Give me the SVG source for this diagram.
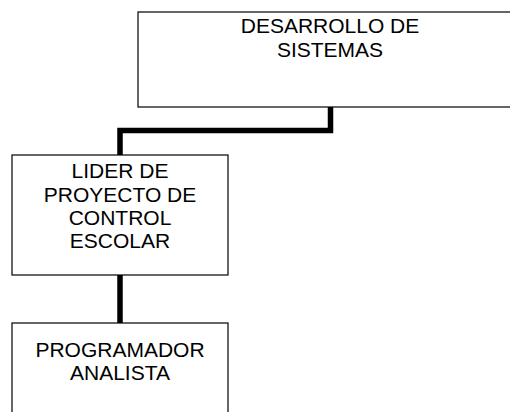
<svg xmlns="http://www.w3.org/2000/svg" width="510" height="412" viewBox="0 0 510 412">
<style>
.box{fill:#fff;stroke:#000;stroke-width:1.2}
.lbl{font-family:"Liberation Sans",Arial,sans-serif;font-size:21px;fill:#000;text-anchor:middle}
.conn{fill:none;stroke:#000;stroke-width:5.5;stroke-linejoin:miter}
</style>
<rect width="510" height="412" fill="#fff"/>
<g id="connectors">
<polyline class="conn" points="330.5,107 330.5,130.5 120,130.5 120,155"/>
<line class="conn" x1="120" y1="275" x2="120" y2="323"/>
</g>
<g id="desarrollo">
<rect class="box" x="138" y="12" width="390" height="95"/>
<text class="lbl" x="330" y="33.3">DESARROLLO DE</text>
<text class="lbl" x="330" y="56.7">SISTEMAS</text>
</g>
<g id="lider">
<rect class="box" x="12" y="155" width="216" height="120"/>
<text class="lbl" x="120" y="178.3">LIDER DE</text>
<text class="lbl" x="120" y="201.7">PROYECTO DE</text>
<text class="lbl" x="120" y="225">CONTROL</text>
<text class="lbl" x="120" y="248.3">ESCOLAR</text>
</g>
<g id="programador">
<rect class="box" x="12" y="323" width="216" height="100"/>
<text class="lbl" x="120" y="356.7">PROGRAMADOR</text>
<text class="lbl" x="120" y="380">ANALISTA</text>
</g>
</svg>
